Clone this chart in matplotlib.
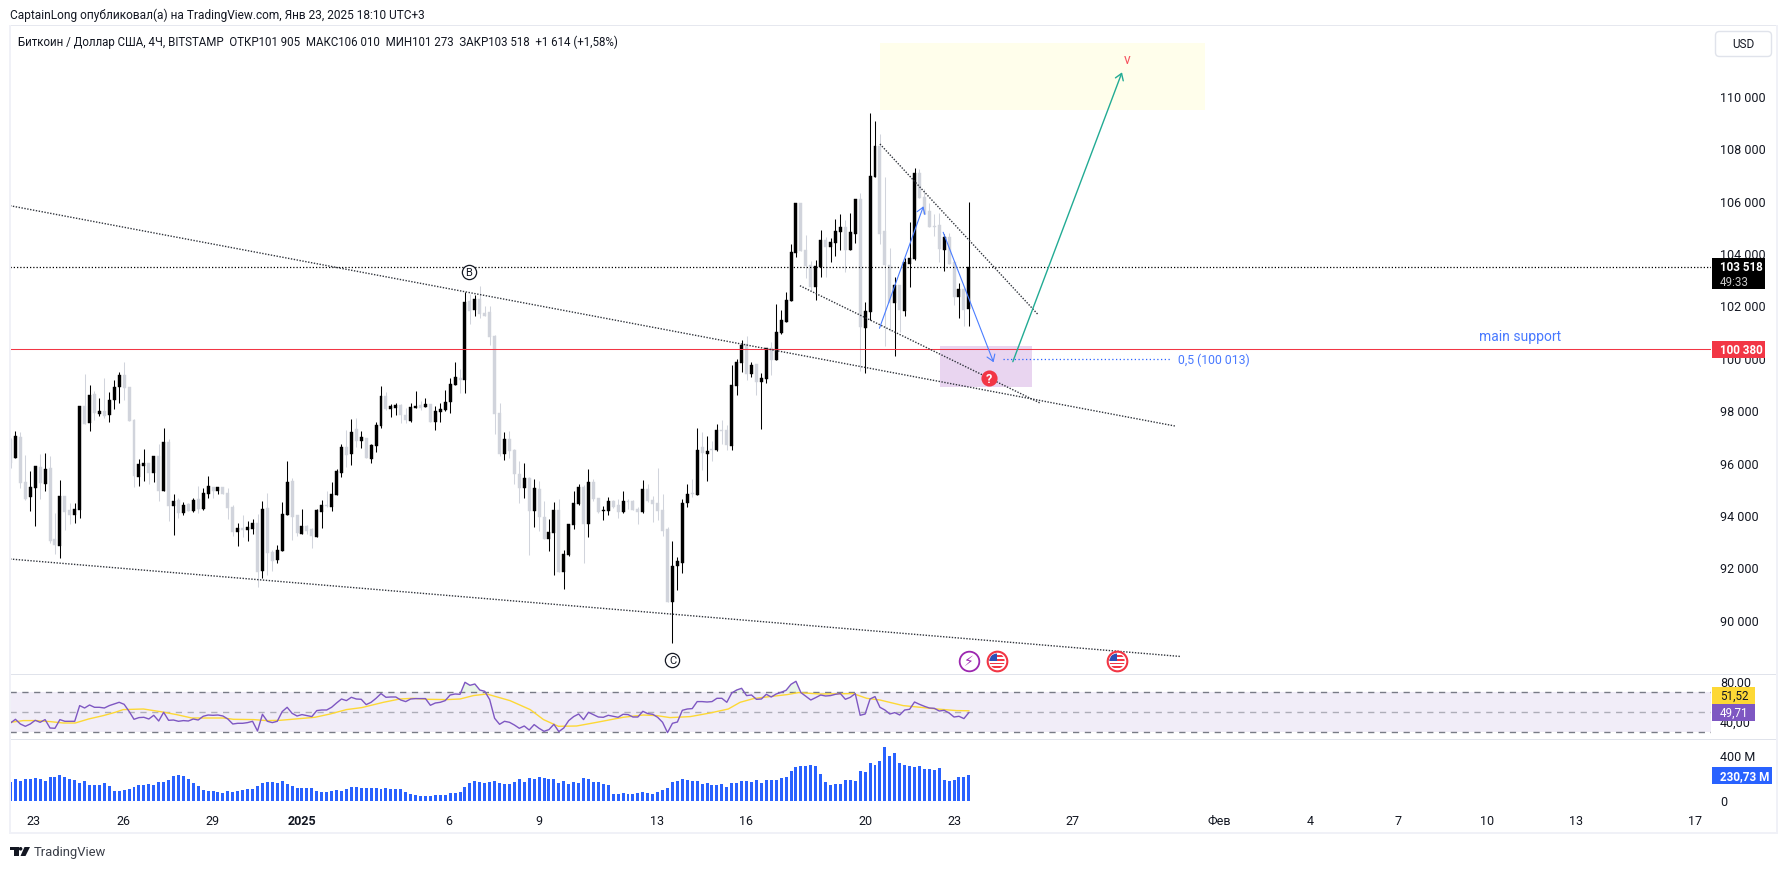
import numpy as np
import matplotlib
matplotlib.use("Agg")
import matplotlib.pyplot as plt
from matplotlib.patches import Rectangle, Circle, Polygon, FancyBboxPatch
from matplotlib.transforms import Affine2D

W, H = 1787, 870
FONT = "Roboto"
plt.rcParams["font.family"] = FONT

# ---------- data ----------
opens = [96930,96230,97030,95320,94740,95090,95890,95240,95850,93140,
92870,94780,94250,94060,94250,98220,97570,98680,97910,98030,
97870,98450,98940,99400,98940,97680,95510,95930,96040,95660,
96310,94970,96840,94400,94630,94130,94480,94210,94670,94290,
94860,95130,94970,95130,94900,94360,93410,93560,93490,93520,
93750,91920,94320,92650,92340,92680,94060,95360,94060,93330,
93640,93520,93220,94170,94440,94360,94820,95660,96650,96390,
97340,96880,97000,96190,96690,97450,98600,98100,98140,98260,
97870,97640,98140,98260,98180,98290,97610,97990,98060,98370,
99020,99290,99210,102220,101880,102300,101770,101800,100890,97950,
96390,96960,96540,95620,95090,95470,94210,95050,93980,93140,
93370,94250,91880,92530,93680,94480,95130,93710,95320,94710,
94210,94210,94590,94440,94170,94590,94590,94290,94170,95050,
94630,94520,94250,93520,90740,92110,92230,94520,94900,94820,
96650,96390,96580,96540,97300,97300,96690,98980,99860,100580,
99440,99820,99130,99250,100430,99970,101000,101420,102220,104060,
105960,104170,103600,102760,103520,104550,104290,104440,104860,105050,
104170,104780,106120,101190,101800,106960,108140,104900,103600,102150,
102840,101840,103640,103830,107110,106190,105660,105090,105130,104170,
104670,103710,102380,102680,101905]
closes = [96040,97070,95280,94670,95130,95930,95280,95810,93070,92910,
94780,94170,94060,94290,98220,97530,98640,97950,98030,97840,
98450,98940,99400,98900,97640,95550,96000,96040,95660,96310,
94970,96840,94400,94590,94130,94440,94210,94630,94290,94900,
95160,94970,95130,94860,94320,93410,93560,93490,93600,93750,
91880,94290,92610,92300,92720,94100,95320,93980,93370,93640,
93450,93260,94250,94440,94400,94860,95740,96650,96350,97220,
96880,97030,96230,96730,97490,98600,98100,98220,98260,97870,
97680,98180,98220,98140,98290,97610,98030,98100,98370,99060,
99320,99210,102186,101840,102300,101730,101650,100850,97910,96390,
96960,96500,95620,95090,95470,94210,95090,93980,93140,93410,
94250,91880,92570,93710,94520,95130,93710,95320,94670,94170,
94250,94590,94360,94170,94590,94550,94250,94170,95050,94590,
94480,94210,93450,90740,92110,92300,94520,94860,94860,96540,
96420,96500,96540,97300,97260,96730,99020,99900,100550,99440,
99780,99130,99290,100430,99970,101040,101500,102260,104100,105960,
104130,103560,102760,103560,104550,104290,104480,104900,105050,104170,
104860,106120,101230,101840,107000,108140,104780,103600,102150,102840,
101880,103710,103870,107110,106160,105550,105050,105050,104210,104670,
103640,102380,102680,101880,103518]
highs = [96980,97260,97220,96350,95740,95930,96390,96420,96310,94130,
95390,94780,94520,94520,98220,99440,99020,98790,98520,99290,
98750,99210,99510,99900,98940,97720,96190,96580,96040,96310,
96770,97380,96960,94860,94710,94550,94520,94710,95160,95090,
95550,95130,95130,95130,95090,94440,93750,94060,93830,93910,
94100,94590,94900,92720,92910,94550,96120,95470,94060,94290,
93680,93560,94290,94630,94970,95320,95810,96770,97300,97720,
97760,97260,97000,96770,97610,98980,98750,98290,98330,98290,
98140,98330,98790,98410,98520,98290,98220,98330,98830,99290,
99900,99630,102555,102490,102450,102800,102030,102030,100930,98330,
97230,97260,96580,96120,96040,95510,95430,95360,94590,93910,
94550,94670,92720,93710,94970,95240,95200,95810,95430,94710,
94400,94750,94630,94670,94970,94670,94630,94360,95390,95240,
94780,95850,94860,93600,93070,92460,94670,95240,95430,97380,
97230,97070,96880,97530,97680,97490,99780,100010,100740,100890,
99900,99820,99480,100430,100660,102110,101880,102570,104400,105960,
105960,104740,103750,103790,104930,104670,104630,105350,105550,105320,
105580,106120,106350,102190,109400,109090,108600,106960,104250,103140,
102840,103870,105240,107300,107260,106500,105960,105550,105580,104780,
104820,103750,102910,102720,106010]
lows = [95850,96230,95090,94630,94210,93640,94670,94970,92990,92570,
92420,93490,93710,93750,93940,97530,97260,97680,97840,97760,
97610,98100,98330,98450,97640,95130,95160,95360,95240,95320,
94590,94970,93830,93290,93940,94060,94210,94170,94130,94250,
94710,94710,94860,94860,93910,93260,92870,93220,93070,93330,
91310,91650,91770,91920,92230,92680,94060,93100,93260,93330,
93330,92800,93220,93560,94360,94210,94820,95510,95890,95970,
96650,96610,96230,96040,96460,97380,98060,97800,97870,97570,
97570,97610,98140,98060,98180,97610,97300,97610,98030,97950,
99020,98710,98710,101350,101650,101580,101650,100550,97150,96310,
96160,96230,95240,94520,94710,92530,93600,93450,93140,92680,
91770,91880,91230,92490,93520,94440,92230,93220,94590,94130,
93870,94060,94330,93940,94130,94290,94250,93710,94130,94550,
93790,93870,93260,90740,89170,91200,91850,94360,94750,94820,
95780,95360,96120,96500,96770,96540,96540,98640,99520,99210,
99320,98640,97340,99100,99400,99970,100960,101420,102220,103900,
104130,103100,102640,102260,103140,103140,103710,103940,104170,103330,
104170,104440,99550,99480,101500,106960,104400,100510,101080,100130,
101040,101650,102760,103790,106160,105550,105050,104700,103710,103370,
103640,102070,101580,101270,101273]
volumes_m = [171,198,180,198,198,207,198,180,216,216,
234,216,198,189,162,180,144,144,144,162,
135,90,90,99,108,126,144,144,153,144,
171,171,189,225,234,225,198,162,135,99,
90,90,81,72,90,81,90,99,108,108,
135,162,171,171,162,180,153,135,117,117,
117,117,90,81,81,90,99,90,108,126,
126,117,117,117,117,108,117,108,108,108,
81,63,54,45,45,45,54,54,54,72,
72,81,126,162,180,171,162,171,
180,162,153,153,171,198,171,207,198,216,
207,198,198,162,180,153,171,162,207,198,
171,171,153,144,63,63,72,63,63,72,
81,72,63,81,99,117,171,180,198,189,
180,180,153,162,144,144,153,126,162,162,
180,180,171,189,162,189,189,189,207,216,
270,306,315,315,324,315,243,171,144,153,
153,189,189,180,270,261,342,324,360,486,
405,432,342,324,315,306,315,288,288,279,
297,189,180,189,216,216,230.73]
rsi = [39.3,43,38.3,36,38.3,42,40,42.7,34.3,34,
42.7,41,41,41,56.7,54.3,57.3,55,55,54.3,
56.7,58.3,60,58,51,43,44.7,45,43.3,47,
41.3,50,42,42.3,41,41.7,41.3,43.3,42.3,46,
47.3,47,47.3,46.3,43.3,38.3,39,39,39.7,41,
31.3,48,41,39.7,41,50.7,55,49,46.3,47.7,
46.7,45.7,51.7,52.3,52.3,55,59.3,63.3,61.7,65,
63.3,63,57.7,60,64,68.7,65,65.3,65.3,62.3,
60.7,63.3,63.7,63.7,63.7,57,59.3,60,61.7,67.3,
68.3,68,80,77,78.3,72.3,71,62.7,
44,38,41,40,37.3,34,36.3,32.3,37.7,34,
31,32.7,38,30.7,34.3,41.7,45.7,48.3,42.7,50,
47.7,45.3,45,47,46,45,48,47.7,45.3,45.3,
51,48.7,48,45,40,29.7,39,40.3,52,53.3,
53.7,60.7,60.7,60.3,60.7,64,64,60,69.3,72.3,
74,66.7,67.3,63,63.3,68,65.3,68.3,70,72,
78,81,69.7,66,62.3,64.7,67.3,66.3,66.7,68,
68.7,63,65,68.7,47,48.3,63.3,65.7,55,52.3,
48.3,49.7,47.3,52.3,53,60.3,58,56,54.3,54,
51.3,52,49.3,45.3,46,43.7,49.71]
rsi_ma_bar = [0,2.6,5.3,8,10.7,13.1,15.8,18.8,21.2,22.8,26.9,30.3,33.6,36.7,43.1,45.1,49.2,51.9,54.6,58.6,
61.6,64.7,68,71.1,75.5,78.8,81.5,84.2,88.3,91,93.7,96.4,101.1,105.2,107.9,110.9,114.6,118.7,124,128.1,
130.8,133.5,137.6,141.6,145.3,147.7,150.4,153.7,157.2,159.5,163.9,170.6,173.3,176,180.7,184.8,187.5,191.5,194]
rsi_ma = [40,41.7,41.7,40.7,39.3,39.3,43.3,46.7,50,52.7,53.3,50.7,47.7,44.3,44.3,43,42.7,41.7,42,43.7,
45,48.3,52.7,54.7,60,63.3,64,63,62.7,63.3,66.7,68.3,61.7,52.7,42.7,36,36.3,40,45,47.3,
46.7,44.7,45.7,49.3,53.3,60,63.7,65.7,67.7,69.7,68.3,68.7,64,62.3,56.7,54.7,53.3,51.7,51.52]

price_ticks = list(range(90000, 110001, 2000))
price_labels = ["90 000","92 000","94 000","96 000","98 000","100 000",
                "102 000","104 000","106 000","108 000","110 000"]
date_pos = [4.7,22.8,40.8,58.9,88.8,106.9,130.8,148.9,173,191,214.9,244.7,263,280.9,298.9,316.9,341]
date_labels = ["23","26","29","2025","6","9","13","16","20","23","27","Фев","4","7","10","13","17"]

last_price = 103518
support_price = 100380
fib_price = 100013
trend_upper = ([-0.1, 235.7], [105861, 97453])
trend_lower = ([-0.1, 236.9], [92376, 88655])
wedge_lower = ([159.8, 208.4], [102807, 98330])
wedge_upper = ([176.0, 207.9], [108216, 101727])
arrow_up = ((175.9, 101182), (184.8, 105838))
arrow_down = ((188.8, 104846), (199.0, 99884))
arrow_target = ((202.9, 99907), (225.0, 110952))

# ---------- layout helpers ----------
PX_LEFT, PX_RIGHT = 10, 1711
BAR_PX = 4.94
X0 = 10.5
xlim = ((PX_LEFT - X0) / BAR_PX, (PX_RIGHT - X0) / BAR_PX)

fig = plt.figure(figsize=(W / 100, H / 100), dpi=100, facecolor="white")


def make_axes(top, bottom):
    ax = fig.add_axes([PX_LEFT / W, 1 - bottom / H, (PX_RIGHT - PX_LEFT) / W, (bottom - top) / H])
    ax.set_xlim(*xlim)
    for s in ax.spines.values():
        s.set_visible(False)
    ax.patch.set_alpha(0)
    return ax


PX_PER_1000 = 26.2
ax = make_axes(26, 675)
ax.set_ylim(support_price - (675 - 350.3) / PX_PER_1000 * 1000, support_price + (350.3 - 26) / PX_PER_1000 * 1000)
ax_rsi = make_axes(675, 740)
ax_rsi.set_ylim(23.3, 88.3)
ax_vol = make_axes(740, 810)
ax_vol.set_ylim(-72, 558)

TICK = "#131722"
for a, ticks, labels in [(ax, price_ticks, price_labels), (ax_rsi, [40, 80], ["40,00", "80,00"]),
                         (ax_vol, [0, 400], ["0", "400 М"])]:
    a.yaxis.tick_right()
    a.set_yticks(ticks)
    a.set_yticklabels(labels, fontsize=9, color=TICK, va="center_baseline")
    a.tick_params(axis="y", length=0, pad=6.4)
    a.set_xticks([])
    for lab in a.get_yticklabels():
        lab.set_transform(lab.get_transform() + Affine2D().translate(0, 1.4))
ax_vol.set_xticks(date_pos)
ax_vol.set_xticklabels(date_labels, fontsize=9, color=TICK)
ax_vol.tick_params(axis="x", length=0, pad=3.4)
for t in ax_vol.get_xticklabels():
    if t.get_text() == "2025":
        t.set_fontweight("bold")

# ---------- candles ----------
idx = np.arange(len(opens))
o, c, hi, lo = map(np.array, (opens, closes, highs, lows))
up = c >= o
UPC, DNC = "#000000", "#d1d4dc"
ax.axhspan(109514, 112071, xmin=(176.0 - xlim[0]) / (xlim[1] - xlim[0]), xmax=(241.8 - xlim[0]) / (xlim[1] - xlim[0]),
           color="#fffeeb", lw=0, zorder=0)
ax.axhspan(98941, 100506, xmin=(188.2 - xlim[0]) / (xlim[1] - xlim[0]), xmax=(206.8 - xlim[0]) / (xlim[1] - xlim[0]),
           color="#e9d5f0", lw=0, zorder=0)
ax.vlines(idx[~up], lo[~up], hi[~up], color=DNC, lw=0.75, zorder=2)
ax.vlines(idx[up], lo[up], hi[up], color=UPC, lw=0.75, zorder=2.1)
ax.bar(idx[~up], np.abs(c - o)[~up], bottom=np.minimum(o, c)[~up], width=0.6, color=DNC, lw=0.3, edgecolor=DNC, zorder=2.2)
ax.bar(idx[up], np.abs(c - o)[up], bottom=np.minimum(o, c)[up], width=0.6, color=UPC, lw=0.3, edgecolor=UPC, zorder=2.3)

# ---------- levels and drawings ----------
DOT = (0, (1, 1.6))
ax.axhline(last_price, color="#000000", lw=0.9, ls=DOT, zorder=3)
ax.axhline(support_price, color="#f23645", lw=0.75, zorder=3)
for xs, ys in (trend_upper, trend_lower, wedge_lower, wedge_upper):
    ax.plot(xs, ys, color="#30343c", lw=1, ls=(0, (1, 1.1)), zorder=3)
ax.plot([200.9, 234.8], [fib_price, fib_price], color="#2962ff", lw=0.9, ls=(0, (1, 2)), zorder=3)
ax.text(236.4, fib_price, "0,5 (100 013)", color="#2962ff", fontsize=8.8, va="center", ha="left", alpha=.85)
ax.text(297.3, 100900, "main support", color="#2962ff", fontsize=10, va="center", ha="left", alpha=.85)
for (start, end), col, w in ((arrow_up, "#4a7dff", 0.8), (arrow_down, "#4a7dff", 0.8), (arrow_target, "#22ab94", 1.0)):
    ax.annotate("", xy=end, xytext=start, zorder=4,
                arrowprops=dict(arrowstyle="->,head_length=0.45,head_width=0.3", color=col, lw=w,
                                shrinkA=0, shrinkB=0, mutation_scale=10))
ax.text(226, 111450, "v", color="#f7525f", fontsize=10, ha="center", va="center", zorder=4)
ax.scatter([198], [99273], s=135, color="#f23645", lw=0, zorder=5)
ax.text(198, 99273, "?", color="white", fontsize=9, fontweight="bold", ha="center", va="center", zorder=6)
for bar, price, lab in ((92.8, 103319, "B"), (134, 88521, "C")):
    ax.scatter([bar], [price], s=105, facecolor="white", edgecolor="#131722", lw=0.9, zorder=5)
    ax.text(bar, price, lab, color="#131722", fontsize=8, ha="center", va="center", zorder=6)

# event icons
ICON_PRICE = 88480
ax.scatter([194], [ICON_PRICE], s=200, facecolor="white", edgecolor="#9c27b0", lw=1.3, zorder=5)
ax.text(194, ICON_PRICE, "\u26a1", color="#9c27b0", fontsize=10, family="DejaVu Sans", ha="center", va="center", zorder=6)
fig.canvas.draw()
for bar in (199.7, 224):
    ax.scatter([bar], [ICON_PRICE], s=200, facecolor="white", edgecolor="#f23645", lw=1.5, zorder=5)
    px, py = ax.transData.transform((bar, ICON_PRICE))
    tr = Affine2D().translate(px, py)
    clip = Circle((0, 0), 7.6, transform=tr, fc="none", ec="none")
    ax.add_patch(clip)
    for k in range(4):
        r = Rectangle((-8, -7 + k * 3.6), 16, 1.8, transform=tr, fc="#f23645", ec="none", zorder=6)
        ax.add_patch(r)
        r.set_clip_path(clip)
    r = Rectangle((-8, 0), 8, 8, transform=tr, fc="#2b4fb8", ec="none", zorder=7)
    ax.add_patch(r)
    r.set_clip_path(clip)

# ---------- RSI pane ----------
ax_rsi.axhspan(30, 70, color="#7e57c2", alpha=0.1, lw=0, zorder=0)
ax_rsi.axhline(70, color="#787b86", lw=1, ls=(0, (4.5, 4)), zorder=1)
ax_rsi.axhline(30, color="#787b86", lw=1, ls=(0, (4.5, 4)), zorder=1)
ax_rsi.axhline(50, color="#787b86", lw=1, ls=(0, (4.5, 4)), alpha=.55, zorder=1)
r_arr = np.array(rsi)
ax_rsi.fill_between(idx, 70, r_arr, where=r_arr > 70, interpolate=True, color="#4caf50", alpha=.12, lw=0, zorder=1)
ax_rsi.plot(rsi_ma_bar, rsi_ma, color="#fdd835", lw=1, zorder=2)
ax_rsi.plot(idx, r_arr, color="#7e57c2", lw=1, zorder=3)

# ---------- volume pane ----------
ax_vol.bar(idx, volumes_m, width=0.6, color="#2962ff", lw=0)

# ---------- frame ----------
px_tr = Affine2D().scale(1, -1).translate(0, H)


def rect(x0, y0, x1, y1, color, **kw):
    p = Rectangle((x0, y0), x1 - x0, y1 - y0, transform=px_tr, fc=color, ec="none", **kw)
    fig.add_artist(p)
    return p


rect(10, 25.5, 1777, 26.5, "#e6e8ef", zorder=5)
rect(10, 674.8, 1777, 675.8, "#e0e3eb", zorder=5)
rect(10, 739.8, 1777, 740.8, "#e0e3eb", zorder=5)
rect(9, 833, 1778, 835, "#f0f1f7", zorder=5)
rect(9, 26, 10.5, 834, "#f0f1f7", zorder=5)
rect(1776.3, 26, 1778, 834, "#f0f1f7", zorder=5)


def tag(y0, y1, x1, color, lines):
    rect(1712, y0, x1, y1, color, zorder=6)
    for (yt, s, col, weight) in lines:
        fig.text(1720 / W, 1 - yt / H, s, color=col, fontsize=8.4, fontweight=weight, va="center", ha="left", zorder=7)


tag(259, 290, 1765, "#000000", [(267.3, "103 518", "white", "bold"), (282, "49:33", "#c8c8c8", "normal")])
tag(342, 358.7, 1765, "#f23645", [(350.3, "100 380", "white", "bold")])
tag(688, 704.7, 1755, "#fdd835", [(696.3, "51,52", "#131722", "normal")])
tag(705, 721.7, 1755, "#7e57c2", [(713.3, "49,71", "white", "normal")])
tag(768, 785, 1771.7, "#2962ff", [(776.5, "230,73 М", "white", "bold")])

# USD button
fig.add_artist(FancyBboxPatch((1715.5, 32.5), 56, 25, boxstyle="round,pad=0,rounding_size=4", transform=px_tr,
                              fc="white", ec="#e0e3eb", lw=1, zorder=6))
fig.text(1743.5 / W, 1 - 45 / H, "USD", fontsize=8.5, color=TICK, ha="center", va="center", zorder=7)

# header texts
fig.text(10 / W, 1 - 15 / H, "CaptainLong опубликовал(а) на TradingView.com, Янв 23, 2025 18:10 UTC+3",
         fontsize=8.6, color="#131722", va="center", ha="left")
fig.text(18 / W, 1 - 42 / H,
         "Биткоин / Доллар США, 4Ч, BITSTAMP  ОТКР101 905  МАКС106 010  МИН101 273  ЗАКР103 518  +1 614 (+1,58%)",
         fontsize=8.3, color="#131722", va="center", ha="left")

# TradingView mark
LOGO = "#131722"
rect(10, 848, 18.5, 851, LOGO, zorder=6)
rect(14, 848, 18.5, 857, LOGO, zorder=6)
fig.add_artist(Circle((20.6, 849.8), 1.8, transform=px_tr, fc=LOGO, ec="none"))
fig.add_artist(Polygon([(24.5, 848), (30, 848), (25.5, 857), (20.5, 857)], closed=True, transform=px_tr, fc=LOGO, ec="none"))
fig.text(33.5 / W, 1 - 852.7 / H, "TradingView", fontsize=9.4, color="#3a3e48", va="center", ha="left")

fig.savefig("out.png", dpi=100, facecolor="white")
